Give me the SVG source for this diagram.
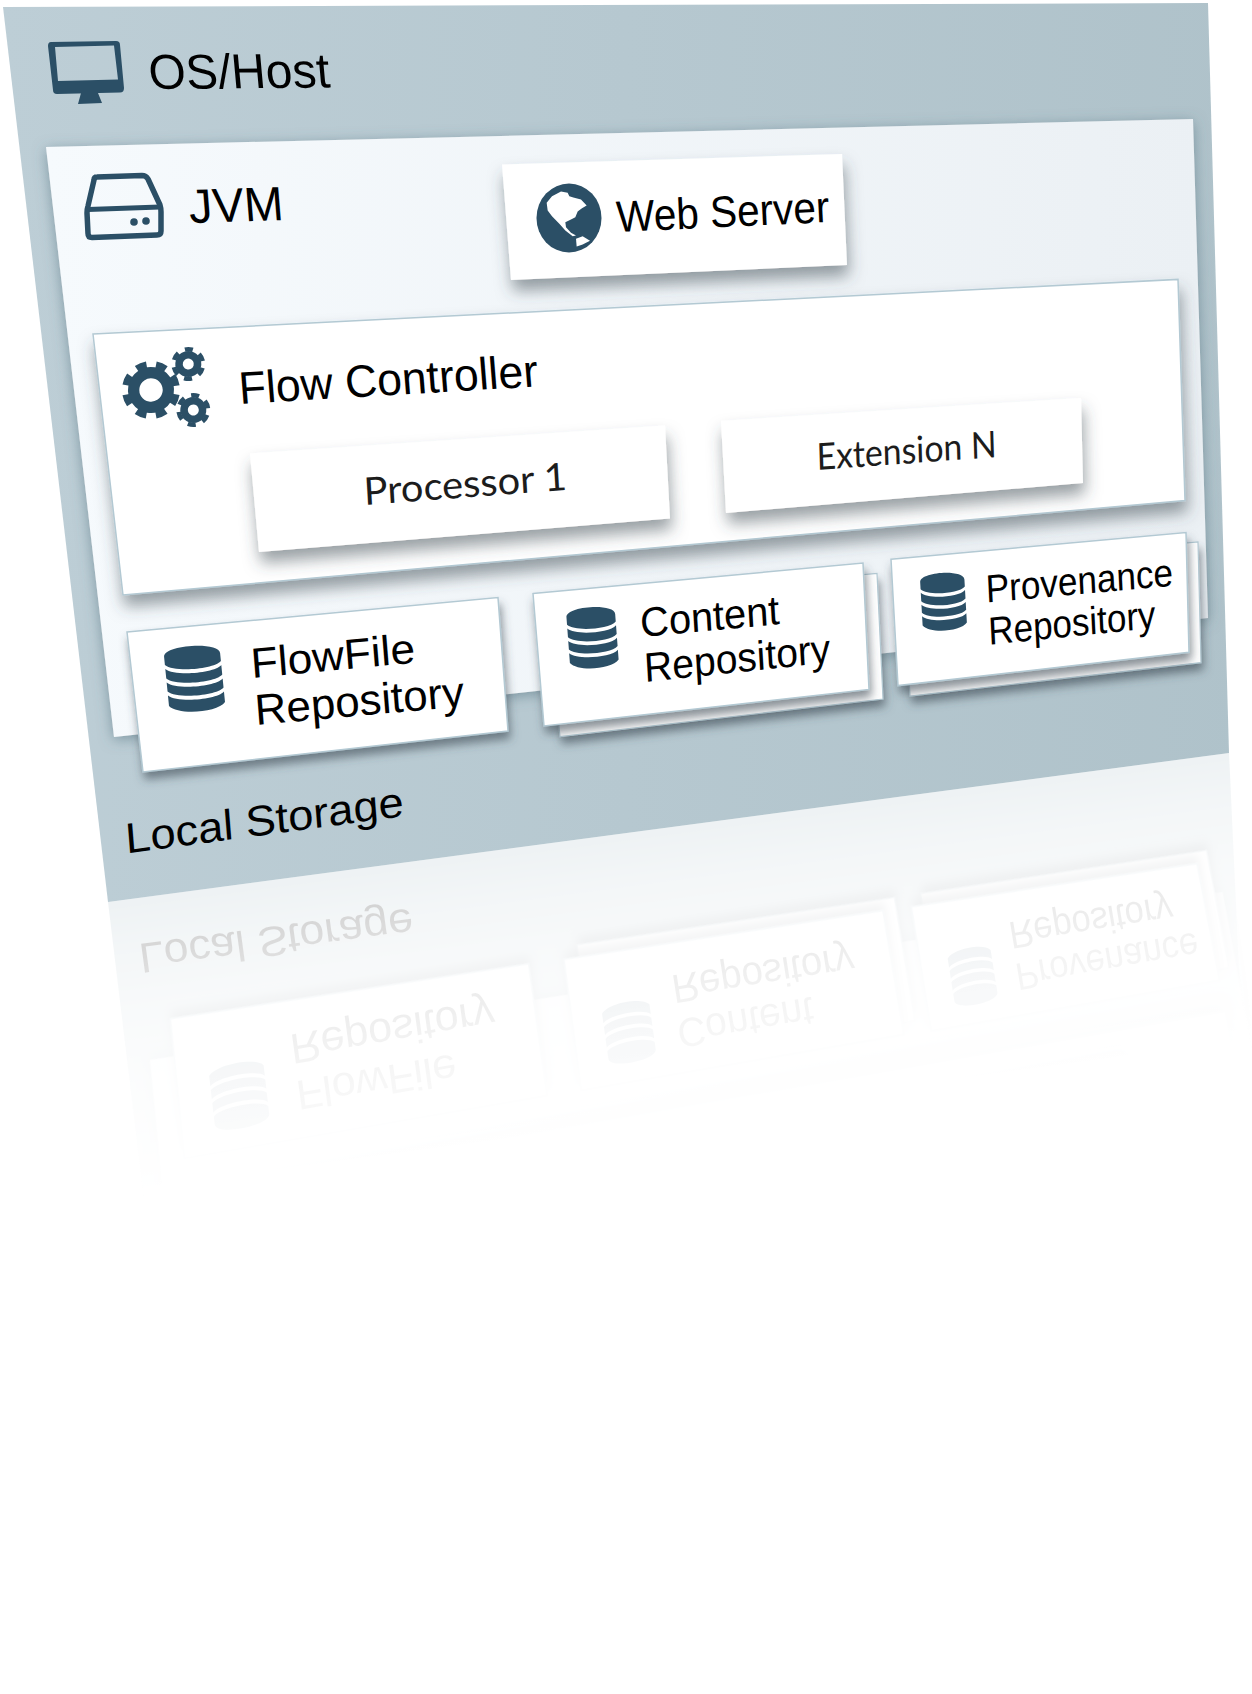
<svg xmlns="http://www.w3.org/2000/svg" xmlns:xlink="http://www.w3.org/1999/xlink" width="1252" height="1694" viewBox="0 0 1252 1694">
<style>
text{font-family:"Liberation Sans",Arial,sans-serif;fill:#000}
.cal{font-family:Lato,"Liberation Sans",sans-serif;fill:#1c1c1c}
.icon{fill:#2b4f66}
.line{fill:none;stroke:#2b4f66}
.box{fill:#fff;stroke:#b3c9d3;stroke-width:1.5}
.back{fill:#fff;stroke:#b3c9d3;stroke-width:1.2}
.card{fill:#fff}
</style>
<defs>
<linearGradient id="osFill" gradientUnits="userSpaceOnUse" x1="0" y1="0" x2="1252" y2="0"><stop offset="0" stop-color="#bdced6"/><stop offset="1" stop-color="#afc2ca"/></linearGradient>
<linearGradient id="jvmFill" gradientUnits="userSpaceOnUse" x1="46" y1="0" x2="1208" y2="0"><stop offset="0" stop-color="#f6fafd"/><stop offset="1" stop-color="#ebf0f4"/></linearGradient>
<linearGradient id="fade" gradientUnits="userSpaceOnUse" x1="108" y1="902" x2="148" y2="1202"><stop offset="0" stop-color="#fff" stop-opacity=".23"/><stop offset=".15" stop-color="#fff" stop-opacity=".16"/><stop offset=".35" stop-color="#fff" stop-opacity=".095"/><stop offset=".6" stop-color="#fff" stop-opacity=".045"/><stop offset="1" stop-color="#fff" stop-opacity="0"/></linearGradient>
<mask id="reflectMask" maskUnits="userSpaceOnUse" x="0" y="700" width="1252" height="700"><rect x="0" y="700" width="1252" height="700" fill="url(#fade)"/></mask>
<filter id="shJvm" x="-5%" y="-5%" width="110%" height="110%"><feDropShadow dx="0" dy="3" stdDeviation="7" flood-color="#4d6c7a" flood-opacity=".55"/></filter>
<filter id="shCard" x="-10%" y="-20%" width="120%" height="150%"><feDropShadow dx="2" dy="11" stdDeviation="8" flood-color="#3c4a52" flood-opacity=".52"/></filter>
<filter id="shRepo" x="-10%" y="-15%" width="120%" height="140%"><feDropShadow dx="2" dy="7" stdDeviation="5" flood-color="#3c4a52" flood-opacity=".6"/></filter>
<path id="db" d="M-28,-24C-28,-36 28,-36 28,-24V-16C20,-8 -20,-8 -28,-16ZM-28,-12C-20,-4 20,-4 28,-12V-2.5C20,5.5 -20,5.5 -28,-2.5ZM-28,1.5C-20,9.5 20,9.5 28,1.5V10.5C20,18.5 -20,18.5 -28,10.5ZM-28,14.5C-20,22.5 20,22.5 28,14.5V25C20,35 -20,35 -28,25Z"/>
<g id="gear-big"><circle r="17.35" fill="none" stroke="#2b4f66" stroke-width="11.3"/><circle r="25.5" fill="none" stroke="#2b4f66" stroke-width="7" stroke-dasharray="10.5 9.5"/></g>
<g id="gear-small"><circle r="9.25" fill="none" stroke="#2b4f66" stroke-width="7.5"/><circle r="14.75" fill="none" stroke="#2b4f66" stroke-width="4.5" stroke-dasharray="8 7.45"/></g>
</defs>

<g id="os-host">
<polygon points="3,7 1208,3 1229,753 108,902" fill="url(#osFill)"/>
<g id="os-icon">
<path class="icon" fill-rule="evenodd" d="M51,42L116,41Q120,41 120,45L124,88Q124,92.6 120,92.6L57,94Q53,94 53,90L48,46Q48,42 51,42ZM55,47L114,45.5L118,79.6L58,81Z"/>
<polygon class="icon" points="81,93 98,93 102,103 78,104"/>
</g>
<text font-size="49" transform="matrix(1 -.009 .09 1 150 89)" textLength="181" lengthAdjust="spacingAndGlyphs">OS/Host</text>
</g>

<g id="content">
<g id="jvm">
<polygon points="46,147 1193,119 1208,618 114,737" fill="url(#jvmFill)" filter="url(#shJvm)"/>
<g id="jvm-icon">
<path class="line" stroke-width="5.5" stroke-linejoin="round" d="M97,177L142,175.5Q146,175.5 148,179L160,205Q161,208 161,212V231Q161,235 157,235L92,237.5Q88,237.5 88,233.5L87,213Q87,209 88,206L94,180Q94,177 97,177Z"/>
<path class="line" stroke-width="5" d="M88,209.5L160,207"/>
<circle class="icon" cx="134" cy="222" r="3.8"/><circle class="icon" cx="146" cy="221" r="3.8"/>
</g>
<text font-size="48" transform="matrix(1 -.03 .08 1 190 223)" textLength="94.5" lengthAdjust="spacingAndGlyphs">JVM</text>
</g>

<g id="web-server">
<polygon class="card" points="502,164.6 842,154 847,265 511,280" filter="url(#shCard)"/>
<g id="globe">
<ellipse class="icon" cx="569" cy="218" rx="32.5" ry="34.5"/>
<g transform="translate(526,175.500) scale(.3333)">
<path fill="#fff" d="M62,82L78,62L105,48L125,52L130,62L142,66L165,72L182,90L168,98L155,108L148,125L135,132L118,140L120,155L135,172L150,180L140,182L118,165L100,145L78,122L65,105Z"/>
<path fill="#fff" d="M150,190L170,182L192,196L170,207L152,213Z"/>
</g>
</g>
<text font-size="44" transform="matrix(1 -.047 .05 1 617 232)" textLength="213" lengthAdjust="spacingAndGlyphs">Web Server</text>
</g>

<g id="flow-controller">
<polygon class="box" points="93,334 1178,279.4 1185,500.6 123,595" filter="url(#shCard)"/>
<g id="gears">
<use href="#gear-big" transform="translate(151,390) rotate(10)"/>
<use href="#gear-small" transform="translate(188.3,364) rotate(15)"/>
<use href="#gear-small" transform="translate(193.3,410) rotate(20)"/>
</g>
<text font-size="45.4" transform="matrix(1 -.059 .08 1 240 404)" textLength="299" lengthAdjust="spacingAndGlyphs">Flow Controller</text>
</g>

<g id="processor-1">
<polygon class="card" points="250,453.5 665,425.6 670,518.6 259,552" filter="url(#shCard)"/>
<text class="cal" font-size="38" transform="matrix(1 -.075 .06 1 364.500 505)" textLength="203" lengthAdjust="spacingAndGlyphs">Processor 1</text>
</g>

<g id="extension-n">
<polygon class="card" points="721,421 1081,398 1083,483 726,513" filter="url(#shCard)"/>
<text class="cal" font-size="37" transform="matrix(1 -.072 .03 1 817 470)" textLength="180" lengthAdjust="spacingAndGlyphs">Extension N</text>
</g>

<g id="flowfile-repository">
<polygon class="box" points="127,632 498,597.6 508,731 143,772" filter="url(#shRepo)"/>
<use href="#db" class="icon" transform="matrix(1 -.07 .1 1 194.500 679)"/>
<text font-size="42" transform="matrix(1 -.094 .08 1 252 678)" textLength="164" lengthAdjust="spacingAndGlyphs">FlowFile</text>
<text font-size="43" transform="matrix(1 -.09 .08 1 256 725)" textLength="209" lengthAdjust="spacingAndGlyphs">Repository</text>
</g>

<g id="content-repository">
<polygon class="back" points="547,603 877,573.5 883,699 560,736.7" filter="url(#shRepo)"/>
<polygon class="box" points="533,593.6 863,563 869,689.4 544,726" filter="url(#shRepo)"/>
<use href="#db" class="icon" transform="matrix(.87 -.06 .07 .93 592.500 638)"/>
<text font-size="41" transform="matrix(1 -.093 .06 1 641 637)" textLength="139" lengthAdjust="spacingAndGlyphs">Content</text>
<text font-size="41" transform="matrix(1 -.105 .06 1 645 682)" textLength="186" lengthAdjust="spacingAndGlyphs">Repository</text>
</g>

<g id="provenance-repository">
<polygon class="back" points="903,569 1198,542 1201,662.6 910,696" filter="url(#shRepo)"/>
<polygon class="box" points="891,559.3 1186,532.5 1189,652.3 898,685.6" filter="url(#shRepo)"/>
<use href="#db" class="icon" transform="matrix(.79 -.05 .05 .88 943.500 602)"/>
<text font-size="39" transform="matrix(1 -.09 .05 1 986.500 602.6)" textLength="187" lengthAdjust="spacingAndGlyphs">Provenance</text>
<text font-size="39" transform="matrix(1 -.101 .05 1 989 644.7)" textLength="167" lengthAdjust="spacingAndGlyphs">Repository</text>
</g>

<g id="local-storage">
<text font-size="42.5" transform="matrix(1 -.134 .08 1 126.500 853.4)" textLength="278" lengthAdjust="spacingAndGlyphs">Local Storage</text>
</g>
</g>

<g id="reflection" mask="url(#reflectMask)">
<polygon points="108,902 1229,753 1245,1100 150,1250" fill="#b3c6ce"/>
<use href="#content" transform="matrix(.9575 -.259 -.21 -.9675 195.6 1802.7)"/>
</g>
</svg>
